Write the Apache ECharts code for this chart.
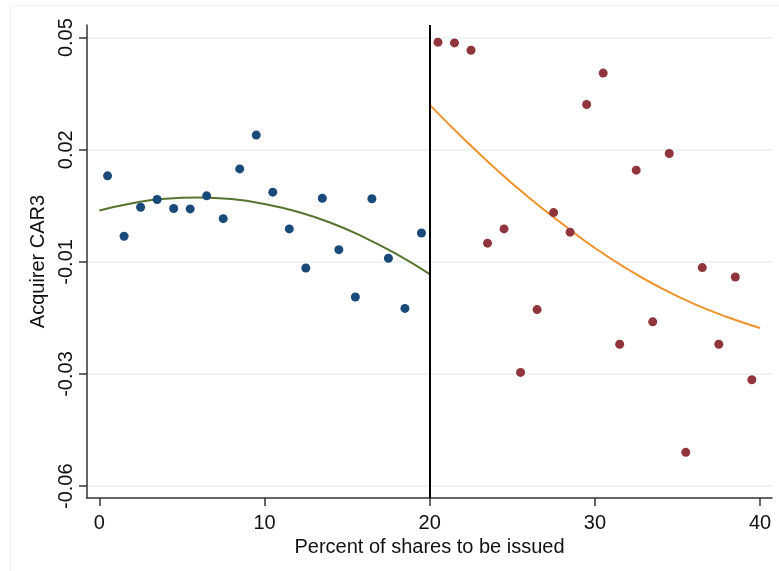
<!DOCTYPE html>
<html>
<head>
<meta charset="utf-8">
<script src="https://cdn.jsdelivr.net/npm/echarts@6/dist/echarts.min.js"></script>
<style>
html,body{margin:0;padding:0;background:#fff;}
#chart{width:779px;height:571px;}
</style>
</head>
<body>
<div id="chart"></div>
<script>
// Binned scatter: x = percent of shares to be issued, y = acquirer CAR3
const leftX = [0.5,1.5,2.5,3.5,4.5,5.5,6.5,7.5,8.5,9.5,10.5,11.5,12.5,13.5,14.5,15.5,16.5,17.5,18.5,19.5];
const leftY = [0.0161,0.0013,0.0084,0.0103,0.0081,0.0080,0.0112,0.0056,0.0178,0.0261,0.0121,0.0031,-0.0065,0.0106,-0.0020,-0.0136,0.0105,-0.0041,-0.0164,0.0021];
const rightX = [20.5,21.5,22.5,23.5,24.5,25.5,26.5,27.5,28.5,29.5,30.5,31.5,32.5,33.5,34.5,35.5,36.5,37.5,38.5,39.5];
const rightY = [0.0489,0.0487,0.0469,-0.0004,0.0031,-0.0321,-0.0167,0.0071,0.0023,0.0336,0.0413,-0.0252,0.0175,-0.0197,0.0216,-0.0517,-0.0064,-0.0252,-0.0087,-0.0339];
// Quadratic fit curves
const fitLeftX = [0,2,4,6,8,10,12,14,16,18,20];
const fitLeftY = [0.0076,0.0094,0.0105,0.0108,0.0104,0.0092,0.0073,0.0046,0.0011,-0.0031,-0.0080];
const fitRightX = [20,22,24,26,28,30,32,34,36,38,40];
const fitRightY = [0.0335,0.0254,0.0178,0.0108,0.0044,-0.0016,-0.0068,-0.0114,-0.0153,-0.0185,-0.0212];
// Axes
const xTicks = [0,10,20,30,40];
const yTickValues = [-0.06,-0.0325,-0.005,0.0225,0.05];
const yTickLabels = ['-0.06','-0.03','-0.01','0.02','0.05'];
const cutoff = 20;

const pairs = (xs, ys) => xs.map((x, i) => [x, ys[i]]);
const FONT = '"Liberation Sans", Arial, Helvetica, sans-serif';

const chart = echarts.init(document.getElementById('chart'), null, {renderer: 'canvas'});
chart.setOption({
  animation: false,
  backgroundColor: '#ffffff',
  textStyle: {fontFamily: FONT},
  graphic: [{
    type: 'rect', silent: true, z: -10,
    shape: {x: 10.5, y: 5.5, width: 780, height: 580},
    style: {fill: 'none', stroke: '#f2f2f2', lineWidth: 1}
  }],
  grid: {left: 87, right: 7, top: 25, bottom: 73, containLabel: false},
  xAxis: {
    type: 'value', min: -0.745, max: 40.72,
    name: 'Percent of shares to be issued', nameLocation: 'middle', nameGap: 31,
    nameTextStyle: {fontSize: 20, color: '#111', fontFamily: FONT},
    axisLine: {show: true, onZero: false, lineStyle: {color: '#333', width: 1.5}},
    axisTick: {show: true, length: 8, customValues: xTicks, lineStyle: {color: '#333', width: 1.5}},
    axisLabel: {customValues: xTicks, fontSize: 20, color: '#111', margin: 15, fontFamily: FONT},
    splitLine: {show: false}
  },
  yAxis: {
    type: 'value', min: -0.0629, max: 0.0531,
    name: 'Acquirer CAR3', nameLocation: 'middle', nameGap: 27,
    nameTextStyle: {fontSize: 20, color: '#111', fontFamily: FONT},
    axisLine: {show: true, onZero: false, lineStyle: {color: '#333', width: 1.5}},
    axisTick: {show: true, length: 8, customValues: yTickValues, lineStyle: {color: '#333', width: 1.5}},
    axisLabel: {
      customValues: yTickValues, rotate: 90, fontSize: 20, color: '#111', margin: 11, fontFamily: FONT,
      formatter: v => {
        const i = yTickValues.findIndex(t => Math.abs(t - v) < 1e-9);
        return i >= 0 ? yTickLabels[i] : '';
      }
    },
    splitLine: {show: true, lineStyle: {color: '#e8f0f3', width: 1.5}}
  },
  series: [
    {
      type: 'line', data: pairs(fitLeftX, fitLeftY), smooth: true, showSymbol: false,
      lineStyle: {color: '#55752f', width: 2}, z: 2,
      markLine: {
        silent: true, symbol: 'none', label: {show: false},
        lineStyle: {color: '#000', width: 2, type: 'solid'},
        data: [{xAxis: cutoff}]
      }
    },
    {
      type: 'line', data: pairs(fitRightX, fitRightY), smooth: true, showSymbol: false,
      lineStyle: {color: '#f0922a', width: 2}, z: 2
    },
    {
      type: 'scatter', data: pairs(leftX, leftY), symbolSize: 9,
      itemStyle: {color: '#1a4a7a', opacity: 1}, z: 3
    },
    {
      type: 'scatter', data: pairs(rightX, rightY), symbolSize: 9,
      itemStyle: {color: '#90353b', opacity: 1}, z: 3
    }
  ]
});
</script>
</body>
</html>
